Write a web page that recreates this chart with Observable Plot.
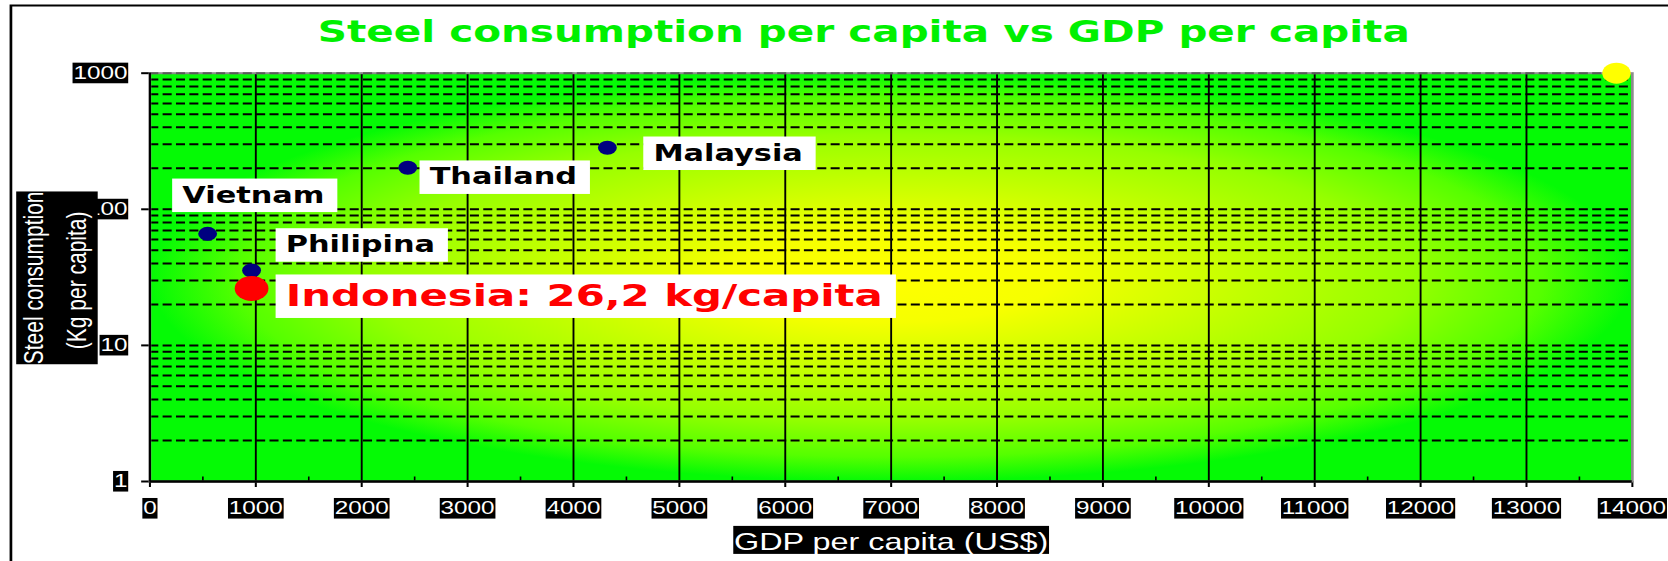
<!DOCTYPE html>
<html>
<head>
<meta charset="utf-8">
<script src="https://cdn.jsdelivr.net/npm/d3@7"></script>
<script src="https://cdn.jsdelivr.net/npm/@observablehq/plot@0.6"></script>
<style>
  html, body { margin: 0; padding: 0; background: #ffffff; overflow: hidden; }
</style>
</head>
<body>
<div id="chart"></div>
<script>
// ---------------- DATA ----------------
const countries      = ["Vietnam", "Philipina", "Indonesia", "Thailand", "Malaysia"];
const gdpPerCapita   = [545, 960, 960, 2435, 4320];          // US$
const steelPerCapita = [66, 35.5, 26.2, 202, 283];           // kg per capita
const pointLabels    = ["Vietnam", "Philipina", "Indonesia: 26,2 kg/capita", "Thailand", "Malaysia"];
const markerGdp      = [13850];
const markerSteel    = [1000];

const xTicks      = [0, 1000, 2000, 3000, 4000, 5000, 6000, 7000, 8000, 9000, 10000, 11000, 12000, 13000, 14000];
const xMinorTicks = [500, 1500, 2500, 3500, 4500, 5500, 6500, 7500, 8500, 9500, 10500, 11500, 12500, 13500];
const yTicks      = [1, 10, 100, 1000];
const yGridValues = [2, 3, 4, 5, 6, 7, 8, 9, 10, 20, 30, 40, 50, 60, 70, 80, 90, 100, 200, 300, 400, 500, 600, 700, 800, 900];

const chartTitle  = "Steel consumption per capita vs GDP per capita";
const xTitle      = "GDP per capita (US$)";
const yTitleLines = ["Steel consumption", "(Kg per capita)"];
const highlight   = "Indonesia";

// ---------------- LAYOUT ----------------
const OUT_W = 1668, H = 561;
const W0 = 1236;                 // drawing width before horizontal stretch
const mL = 110.6, mR = 26.9, mT = 72.7, mB = 80;
const frameH = H - mT - mB;
const dash = "6.7,3.2";
const labelOffsets = {
  Vietnam:   [-18.8, -31.3],
  Philipina: [25.3, -18.3],
  Indonesia: [25.3, 18],
  Thailand:  [16.2, 16.7],
  Malaysia:  [34.1, 12.7]
};

const rows = countries.map((c, i) => ({country: c, gdp: gdpPerCapita[i], steel: steelPerCapita[i], label: pointLabels[i]}));
const markerRows = markerGdp.map((g, i) => ({gdp: g, steel: markerSteel[i]}));

const labelMarks = rows.map(r => {
  const hi = r.country === highlight;
  const [dx, dy] = labelOffsets[r.country];
  return Plot.text([r], {
    x: "gdp", y: "steel", text: "label",
    textAnchor: "start", lineAnchor: "bottom", dx, dy,
    fontFamily: "DejaVu Sans", fontWeight: "bold",
    fontSize: hi ? 31 : 22.5,
    fill: hi ? "#ff0000" : "#000000"
  });
});

const svg = Plot.plot({
  width: W0, height: H,
  marginLeft: mL, marginRight: mR, marginTop: mT, marginBottom: mB,
  style: {background: "white", color: "black", fontFamily: "Liberation Sans, Arial, sans-serif", fontSize: "18px"},
  x: {domain: [0, 14000], ticks: xTicks, tickFormat: d => `${d}`, tickSize: 6, tickPadding: 14, label: null},
  y: {type: "log", domain: [1, 1000], ticks: yTicks, tickFormat: d => `${d}`, tickSize: 6, tickPadding: 10.7, label: null},
  marks: [
    // outer chart border
    Plot.frame({stroke: "black", strokeWidth: 2, insetLeft: -(mL - 7.6), insetTop: -(mT - 5), insetRight: -300, insetBottom: -300}),
    // plot area background
    Plot.frame({fill: "url(#bgGrad)", stroke: "none"}),
    // grid
    Plot.ruleY(yGridValues, {stroke: "black", strokeWidth: 2, strokeDasharray: dash}),
    Plot.ruleX(xTicks.filter(d => d > 0 && d < 14000), {stroke: "black", strokeWidth: 1.4}),
    Plot.ruleX(xMinorTicks, {stroke: "black", strokeWidth: 1.2, insetTop: frameH - 4.5}),
    Plot.frame({stroke: "#8c8c8c", strokeWidth: 2}),
    Plot.ruleY([1000], {stroke: "#5a5a5a", strokeWidth: 2, strokeDasharray: dash}),
    // axis lines
    Plot.ruleX([0], {stroke: "black", strokeWidth: 1.6}),
    Plot.ruleY([1], {stroke: "black", strokeWidth: 2.4}),
    // points
    Plot.dot(markerRows, {x: "gdp", y: "steel", r: 10.5, fill: "#ffff00"}),
    Plot.dot(rows.filter(r => r.country !== highlight), {x: "gdp", y: "steel", r: 7, fill: "#000080"}),
    Plot.dot(rows.filter(r => r.country === highlight), {x: "gdp", y: "steel", r: 12.5, fill: "#ff0000"}),
    ...labelMarks,
    // titles
    Plot.text([chartTitle], {text: d => d, frameAnchor: "top", lineAnchor: "bottom", dx: -20.3, dy: 42 - mT,
      fontFamily: "DejaVu Sans", fontWeight: "bold", fontSize: 30, fill: "#00f000"}),
    Plot.text([xTitle], {text: d => d, frameAnchor: "bottom", lineAnchor: "bottom", dy: 549.4 - (H - mB),
      fontFamily: "Liberation Sans", fontSize: 24, fill: "white"}),
    Plot.text([yTitleLines[0]], {text: d => d, frameAnchor: "left", textAnchor: "middle", rotate: -90, lineAnchor: "bottom",
      dx: 31.5 - mL, dy: 0.5, fontFamily: "Liberation Sans", fontSize: 21, fill: "white"}),
    Plot.text([yTitleLines[1]], {text: d => d, frameAnchor: "left", textAnchor: "middle", rotate: -90, lineAnchor: "bottom",
      dx: 63.5 - mL, dy: 3, fontFamily: "Liberation Sans", fontSize: 21, fill: "white"})
  ]
});

document.getElementById("chart").append(svg);

// gradient definition
const NS = "http://www.w3.org/2000/svg";
const defs = document.createElementNS(NS, "defs");
defs.innerHTML = `<radialGradient id="bgGrad" cx="0.5" cy="0.5" r="0.5">
  <stop offset="0" stop-color="#ffff00"/>
  <stop offset="0.22" stop-color="#f6ff00"/>
  <stop offset="0.4" stop-color="#d2ff00"/>
  <stop offset="0.7" stop-color="#96ff00"/>
  <stop offset="0.88" stop-color="#55ff00"/>
  <stop offset="1" stop-color="#05fa05"/>
</radialGradient>`;
svg.insertBefore(defs, svg.firstChild);

// boxes behind texts
function addBox(els, fill, [pt, pr, pb, pl]) {
  if (!els.length) return;
  const inv = svg.getScreenCTM().inverse();
  let x0 = Infinity, y0 = Infinity, x1 = -Infinity, y1 = -Infinity;
  for (const el of els) {
    const b = el.getBBox();
    const m = inv.multiply(el.getScreenCTM());
    for (const [px, py] of [[b.x, b.y], [b.x + b.width, b.y], [b.x, b.y + b.height], [b.x + b.width, b.y + b.height]]) {
      const p = new DOMPoint(px, py).matrixTransform(m);
      x0 = Math.min(x0, p.x); y0 = Math.min(y0, p.y);
      x1 = Math.max(x1, p.x); y1 = Math.max(y1, p.y);
    }
  }
  const rect = document.createElementNS(NS, "rect");
  rect.setAttribute("x", x0 - pl);
  rect.setAttribute("y", y0 - pt);
  rect.setAttribute("width", x1 - x0 + pl + pr);
  rect.setAttribute("height", y1 - y0 + pt + pb);
  rect.setAttribute("fill", fill);
  let top = els[0];
  while (top.parentNode && top.parentNode !== svg) top = top.parentNode;
  svg.insertBefore(rect, top);
}

const allTexts = [...svg.querySelectorAll("text")];
const byContent = list => allTexts.filter(t => list.includes(t.textContent));

// axis tick labels: white on black
const tickStrings = [...xTicks, ...yTicks].map(d => `${d}`);
const tickTexts = allTexts.filter(t => tickStrings.includes(t.textContent));
tickTexts.forEach(t => { t.setAttribute("fill", "white"); addBox([t], "black", [0.3, 0.6, 0.3, 0.6]); });
svg.querySelectorAll('g[aria-label="y-axis tick"]').forEach(g => g.setAttribute("stroke-width", 2));
svg.querySelectorAll('g[aria-label="x-axis tick"]').forEach(g => g.setAttribute("stroke-width", 1.5));
svg.querySelectorAll('g[aria-label="x-axis"] g.tick line, g[aria-label="y-axis"] g.tick line').forEach(l => l.setAttribute("stroke-width", 2));

// point labels: white boxes
byContent(pointLabels).forEach(t => addBox([t], "white", [3, 9.5, 4.5, 7.5]));
// axis titles: black boxes
byContent([xTitle]).forEach(t => addBox([t], "black", [2, 0.5, -1, 0.5]));
addBox(byContent(yTitleLines), "black", [0, 4.4, 0, 1]);

// horizontal stretch of the whole drawing to the window width
svg.setAttribute("width", OUT_W);
svg.setAttribute("height", H);
svg.setAttribute("preserveAspectRatio", "none");
svg.style.width = OUT_W + "px";
svg.style.height = H + "px";
svg.style.maxWidth = "none";
</script>
</body>
</html>
